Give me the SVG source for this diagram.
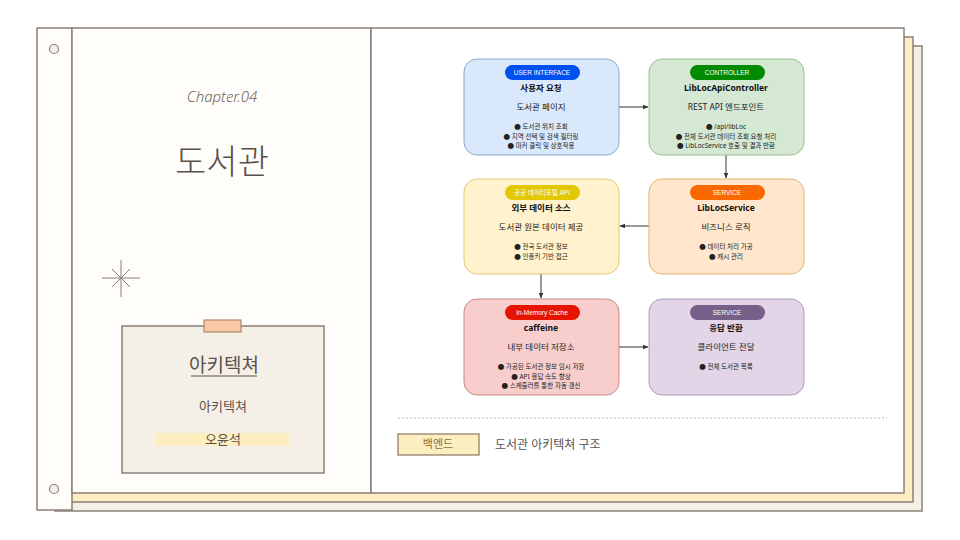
<svg xmlns="http://www.w3.org/2000/svg" width="960" height="540" viewBox="0 0 960 540">
<defs>
<marker id="arr" viewBox="0 0 10 10" refX="9" refY="5" markerWidth="6" markerHeight="6" orient="auto"><path d="M0,1 L10,5 L0,9 z" fill="#333"/></marker>
<style>
text{font-family:"Noto Sans","Noto Sans CJK KR",sans-serif;}
.t{font-size:8.5px;font-weight:bold;fill:#111;text-anchor:middle;}
.s{font-size:8.5px;fill:#222;text-anchor:middle;}
.b{font-size:6.5px;fill:#222;text-anchor:middle;}
.p{font-size:6.5px;fill:#fff;text-anchor:middle;font-family:"Liberation Sans","Noto Sans CJK KR",sans-serif;}
.conn{stroke:#333;stroke-width:1;fill:none;marker-end:url(#arr);}
.page{stroke:#8a7f76;stroke-width:1.5;}
</style>
</defs>
<rect width="960" height="540" fill="#ffffff"/>
<rect class="page" x="55" y="46" width="867" height="465" fill="#f4f0e6"/>
<rect class="page" x="46" y="37" width="867" height="465" fill="#fdefc3"/>
<rect class="page" x="37" y="28" width="35" height="482" fill="#fefdf9"/>
<rect class="page" x="72" y="28" width="299" height="465" fill="#fefdf9"/>
<rect class="page" x="371" y="28" width="533" height="465" fill="#ffffff"/>
<circle cx="54" cy="49" r="4.5" fill="#f4f0e8" stroke="#8a7f76" stroke-width="1.2"/>
<circle cx="54" cy="489" r="4.5" fill="#f4f0e8" stroke="#8a7f76" stroke-width="1.2"/>

<g id="left-panel">
<text x="222" y="102" font-size="15" font-style="italic" font-weight="300" fill="#6e6660" text-anchor="middle">Chapter.04</text>
<text x="222" y="174" font-size="34" font-weight="300" fill="#5a514c" text-anchor="middle">도서관</text>
<g stroke="#8a7f76" stroke-width="1">
<line x1="121" y1="260" x2="121" y2="297"/>
<line x1="102" y1="278" x2="140" y2="278"/>
<line x1="112" y1="269" x2="130" y2="287"/>
<line x1="130" y1="269" x2="112" y2="287"/>
</g>
<rect x="122" y="326" width="202" height="147" fill="#f4f0e8" stroke="#8a7f76" stroke-width="1.5"/>
<rect x="204" y="320" width="37" height="12" fill="#f9c9a6" stroke="#a0785a" stroke-width="1"/>
<text x="224" y="372" font-size="19" fill="#5a514c" text-anchor="middle">아키텍쳐</text>
<line x1="191" y1="376" x2="257" y2="376" stroke="#5a514c" stroke-width="1.2"/>
<text x="223" y="411" font-size="13" fill="#5a514c" text-anchor="middle">아키텍쳐</text>
<rect x="156" y="433" width="133" height="13" fill="#fdeec0"/>
<text x="223" y="444" font-size="13" fill="#5a514c" text-anchor="middle">오윤석</text>
</g>

<g id="connectors">
<line class="conn" x1="619" y1="107" x2="648" y2="107"/>
<line class="conn" x1="726" y1="155" x2="726" y2="178"/>
<line class="conn" x1="649" y1="226" x2="620" y2="226"/>
<line class="conn" x1="541" y1="274" x2="541" y2="298"/>
<line class="conn" x1="619" y1="347" x2="648" y2="347"/>
</g>

<g id="n1">
<rect x="464" y="59" width="155" height="96" rx="13" fill="#dae8fc" stroke="#8ea7cc" stroke-width="1"/>
<rect x="505" y="65" width="75" height="15" rx="7.5" fill="#0050ef"/>
<text class="p" x="542" y="75">USER INTERFACE</text>
<text class="t" x="541" y="91">사용자 요청</text>
<text class="s" x="541" y="110">도서관 페이지</text>
<text class="b" x="541" y="129">● 도서관 위치 조회</text>
<text class="b" x="541" y="138.5">● 지역 선택 및 검색 필터링</text>
<text class="b" x="541" y="148">● 마커 클릭 및 상호작용</text>
</g>

<g id="n2">
<rect x="649" y="59" width="155" height="96" rx="13" fill="#d5e8d4" stroke="#9cc28f" stroke-width="1"/>
<rect x="690" y="65" width="75" height="15" rx="7.5" fill="#008a00"/>
<text class="p" x="727" y="75">CONTROLLER</text>
<text class="t" x="726" y="91">LibLocApiController</text>
<text class="s" x="726" y="110">REST API 엔드포인트</text>
<text class="b" x="726" y="129">● /api/libLoc</text>
<text class="b" x="726" y="138.5">● 전체 도서관 데이터 조회 요청 처리</text>
<text class="b" x="726" y="148">● LibLocService 호출 및 결과 반환</text>
</g>

<g id="n3">
<rect x="464" y="179" width="155" height="95" rx="13" fill="#fff2cc" stroke="#e0c77a" stroke-width="1"/>
<rect x="505" y="185" width="75" height="15" rx="7.5" fill="#e3c800"/>
<text class="p" x="542" y="195" font-size="5.5">공공 데이터포털 API</text>
<text class="t" x="541" y="211">외부 데이터 소스</text>
<text class="s" x="541" y="230">도서관 원본 데이터 제공</text>
<text class="b" x="541" y="249">● 전국 도서관 정보</text>
<text class="b" x="541" y="258.5">● 인증키 기반 접근</text>
</g>

<g id="n4">
<rect x="649" y="179" width="155" height="95" rx="13" fill="#ffe6cc" stroke="#e6b370" stroke-width="1"/>
<rect x="690" y="185" width="75" height="15" rx="7.5" fill="#fa6800"/>
<text class="p" x="727" y="195">SERVICE</text>
<text class="t" x="726" y="211">LibLocService</text>
<text class="s" x="726" y="230">비즈니스 로직</text>
<text class="b" x="726" y="249">● 데이터 처리 가공</text>
<text class="b" x="726" y="258.5">● 캐시 관리</text>
</g>

<g id="n5">
<rect x="464" y="299" width="155" height="96" rx="13" fill="#f8cecc" stroke="#c98886" stroke-width="1"/>
<rect x="505" y="305" width="75" height="15" rx="7.5" fill="#e51400"/>
<text class="p" x="542" y="315">In-Memory Cache</text>
<text class="t" x="541" y="331">caffeine</text>
<text class="s" x="541" y="350">내부 데이터 저장소</text>
<text class="b" x="541" y="369">● 가공된 도서관 정보 임시 저장</text>
<text class="b" x="541" y="378.5">● API 응답 속도 향상</text>
<text class="b" x="541" y="388">● 스케줄러를 통한 자동 갱신</text>
</g>

<g id="n6">
<rect x="649" y="299" width="155" height="96" rx="13" fill="#e1d5e7" stroke="#b39cc0" stroke-width="1"/>
<rect x="690" y="305" width="75" height="15" rx="7.5" fill="#76608a"/>
<text class="p" x="727" y="315">SERVICE</text>
<text class="t" x="726" y="331">응답 반환</text>
<text class="s" x="726" y="350">클라이언트 전달</text>
<text class="b" x="726" y="369">● 전체 도서관 목록</text>
</g>

<g id="caption">
<line x1="398" y1="418" x2="887" y2="418" stroke="#aaa" stroke-width="0.8" stroke-dasharray="2,2"/>
<rect x="398" y="434" width="81" height="21" fill="#fdeec0" stroke="#8a7660" stroke-width="1.2"/>
<text x="438" y="448" font-size="11" fill="#8a6d4a" text-anchor="middle">백엔드</text>
<text x="495" y="449" font-size="12" fill="#555">도서관 아키텍쳐 구조</text>
</g>
</svg>
